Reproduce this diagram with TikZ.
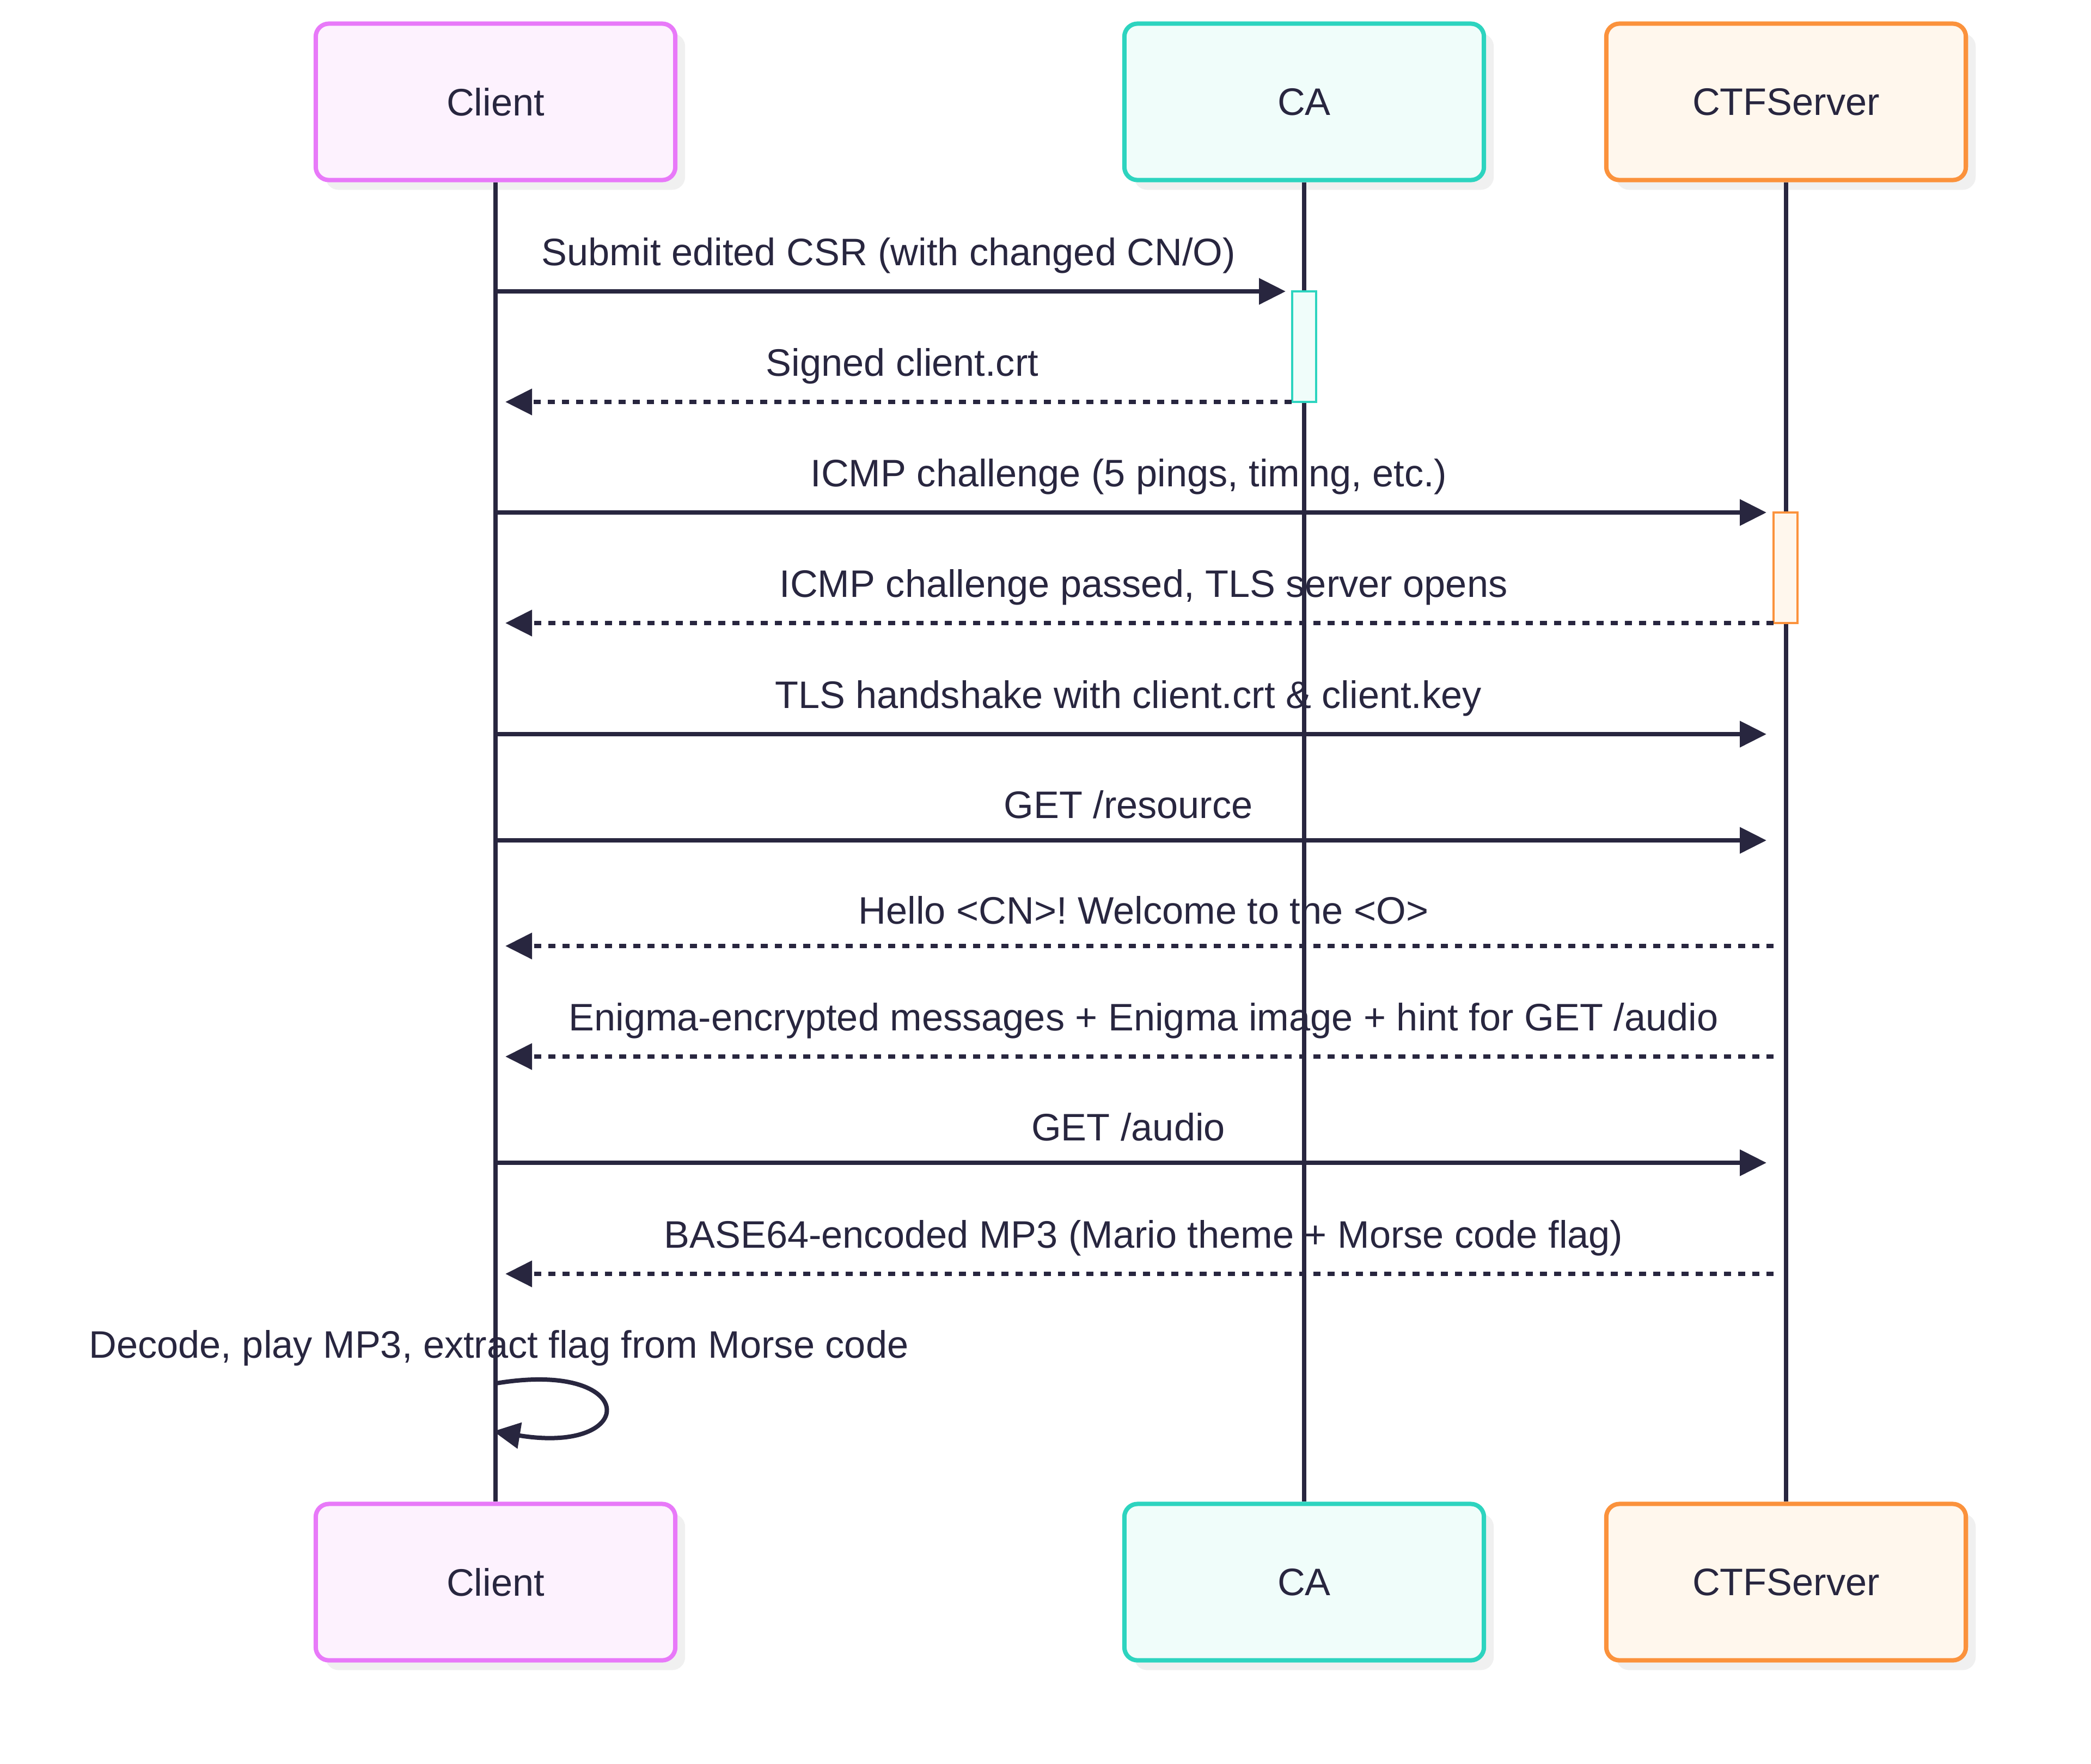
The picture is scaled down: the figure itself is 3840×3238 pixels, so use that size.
\documentclass[tikz,border=0pt]{standalone}
\usepackage{fontspec}
\setmainfont{Liberation Sans}
\frenchspacing
\usetikzlibrary{arrows.meta,shadows}
\definecolor{ink}{HTML}{28263F}
\definecolor{clientline}{HTML}{E879F9}
\definecolor{clientfill}{HTML}{FDF2FE}
\definecolor{caline}{HTML}{2DD4BF}
\definecolor{cafill}{HTML}{F0FDFA}
\definecolor{srvline}{HTML}{FB923C}
\definecolor{srvfill}{HTML}{FFF7ED}
\definecolor{shade}{HTML}{F0F0F0}

\begin{document}
\begin{tikzpicture}[x=0.01cm,y=-0.01cm,
    font=\fontsize{20}{24}\selectfont,text=ink,
    actor/.style={rectangle,rounded corners=0.24cm,minimum width=6.6cm,minimum height=2.87cm,
      line width=0.08cm,drop shadow={shadow xshift=0.18cm,shadow yshift=-0.18cm,fill=shade,opacity=1}},
    life/.style={draw=ink,line width=0.085cm},
    act/.style={line width=0.04cm},
    msg/.style={draw=ink,line width=0.08cm,-{Triangle[length=0.49cm,width=0.47cm]}},
    reply/.style={msg,dash pattern=on 0.13cm off 0.13cm},
    lbl/.style={anchor=base,inner sep=0pt}]
\useasboundingbox (0,0) rectangle (3840,3238);
  % participants
  \node[actor,draw=clientline,fill=clientfill] (cl1) at (910,187) {Client};
  \node[actor,draw=caline,fill=cafill] (ca1) at (2395,187) {CA};
  \node[actor,draw=srvline,fill=srvfill] (sv1) at (3280,187) {CTFServer};
  \node[actor,draw=clientline,fill=clientfill] (cl2) at (910,2905) {Client};
  \node[actor,draw=caline,fill=cafill] (ca2) at (2395,2905) {CA};
  \node[actor,draw=srvline,fill=srvfill] (sv2) at (3280,2905) {CTFServer};
  \draw[life] (cl1.south) -- (cl2.north);
  \draw[life] (ca1.south) -- (ca2.north);
  \draw[life] (sv1.south) -- (sv2.north);
  % activations
  \draw[act,draw=caline,fill=cafill] (2373,535) rectangle (2417,738);
  \draw[act,draw=srvline,fill=srvfill] (3257,941) rectangle (3301,1144);
  % messages
  \coordinate (m1s) at (910,535);  \coordinate (m1e) at (2361,535);
  \coordinate (m2s) at (2372,738); \coordinate (m2e) at (928,738);
  \coordinate (m3s) at (910,941);  \coordinate (m3e) at (3244,941);
  \coordinate (m4s) at (3257,1144); \coordinate (m4e) at (928,1144);
  \coordinate (m5s) at (910,1348); \coordinate (m5e) at (3244,1348);
  \coordinate (m6s) at (910,1543); \coordinate (m6e) at (3244,1543);
  \coordinate (m7s) at (3257,1737); \coordinate (m7e) at (928,1737);
  \coordinate (m8s) at (3257,1940); \coordinate (m8e) at (928,1940);
  \coordinate (m9s) at (910,2135); \coordinate (m9e) at (3244,2135);
  \coordinate (m10s) at (3257,2339); \coordinate (m10e) at (928,2339);
  \coordinate (lp1) at (911,2540); \coordinate (lp2) at (906,2628);
  \node[lbl] (t1) at (1632,487) {Submit edited CSR (with changed CN/O)};
  \node[lbl] (t2) at (1657,690) {Signed client.crt};
  \node[lbl] (t3) at (2073,893) {ICMP challenge (5 pings, timing, etc.)};
  \node[lbl] (t4) at (2100,1096) {ICMP challenge passed, TLS server opens};
  \node[lbl] (t5) at (2072,1300) {TLS handshake with client.crt \& client.key};
  \node[lbl] (t6) at (2072,1502) {GET /resource};
  \node[lbl] (t7) at (2100,1696) {Hello <CN>! Welcome to the <O>};
  \node[lbl] (t8) at (2100,1892) {Enigma-encrypted messages + Enigma image + hint for GET /audio};
  \node[lbl] (t9) at (2072,2094) {GET /audio};
  \node[lbl] (t10) at (2100,2291) {BASE64-encoded MP3 (Mario theme + Morse code flag)};
  \node[lbl] (t11) at (916,2493) {Decode, play MP3, extract flag from Morse code};
  \draw[msg] (m1s) -- (m1e);
  \draw[reply] (m2s) -- (m2e);
  \draw[msg] (m3s) -- (m3e);
  \draw[reply] (m4s) -- (m4e);
  \draw[msg] (m5s) -- (m5e);
  \draw[msg] (m6s) -- (m6e);
  \draw[reply] (m7s) -- (m7e);
  \draw[reply] (m8s) -- (m8e);
  \draw[msg] (m9s) -- (m9e);
  \draw[reply] (m10s) -- (m10e);
  \draw[msg] (lp1) .. controls (1175,2496) and (1175,2672) .. (lp2);
\end{tikzpicture}
\end{document}
